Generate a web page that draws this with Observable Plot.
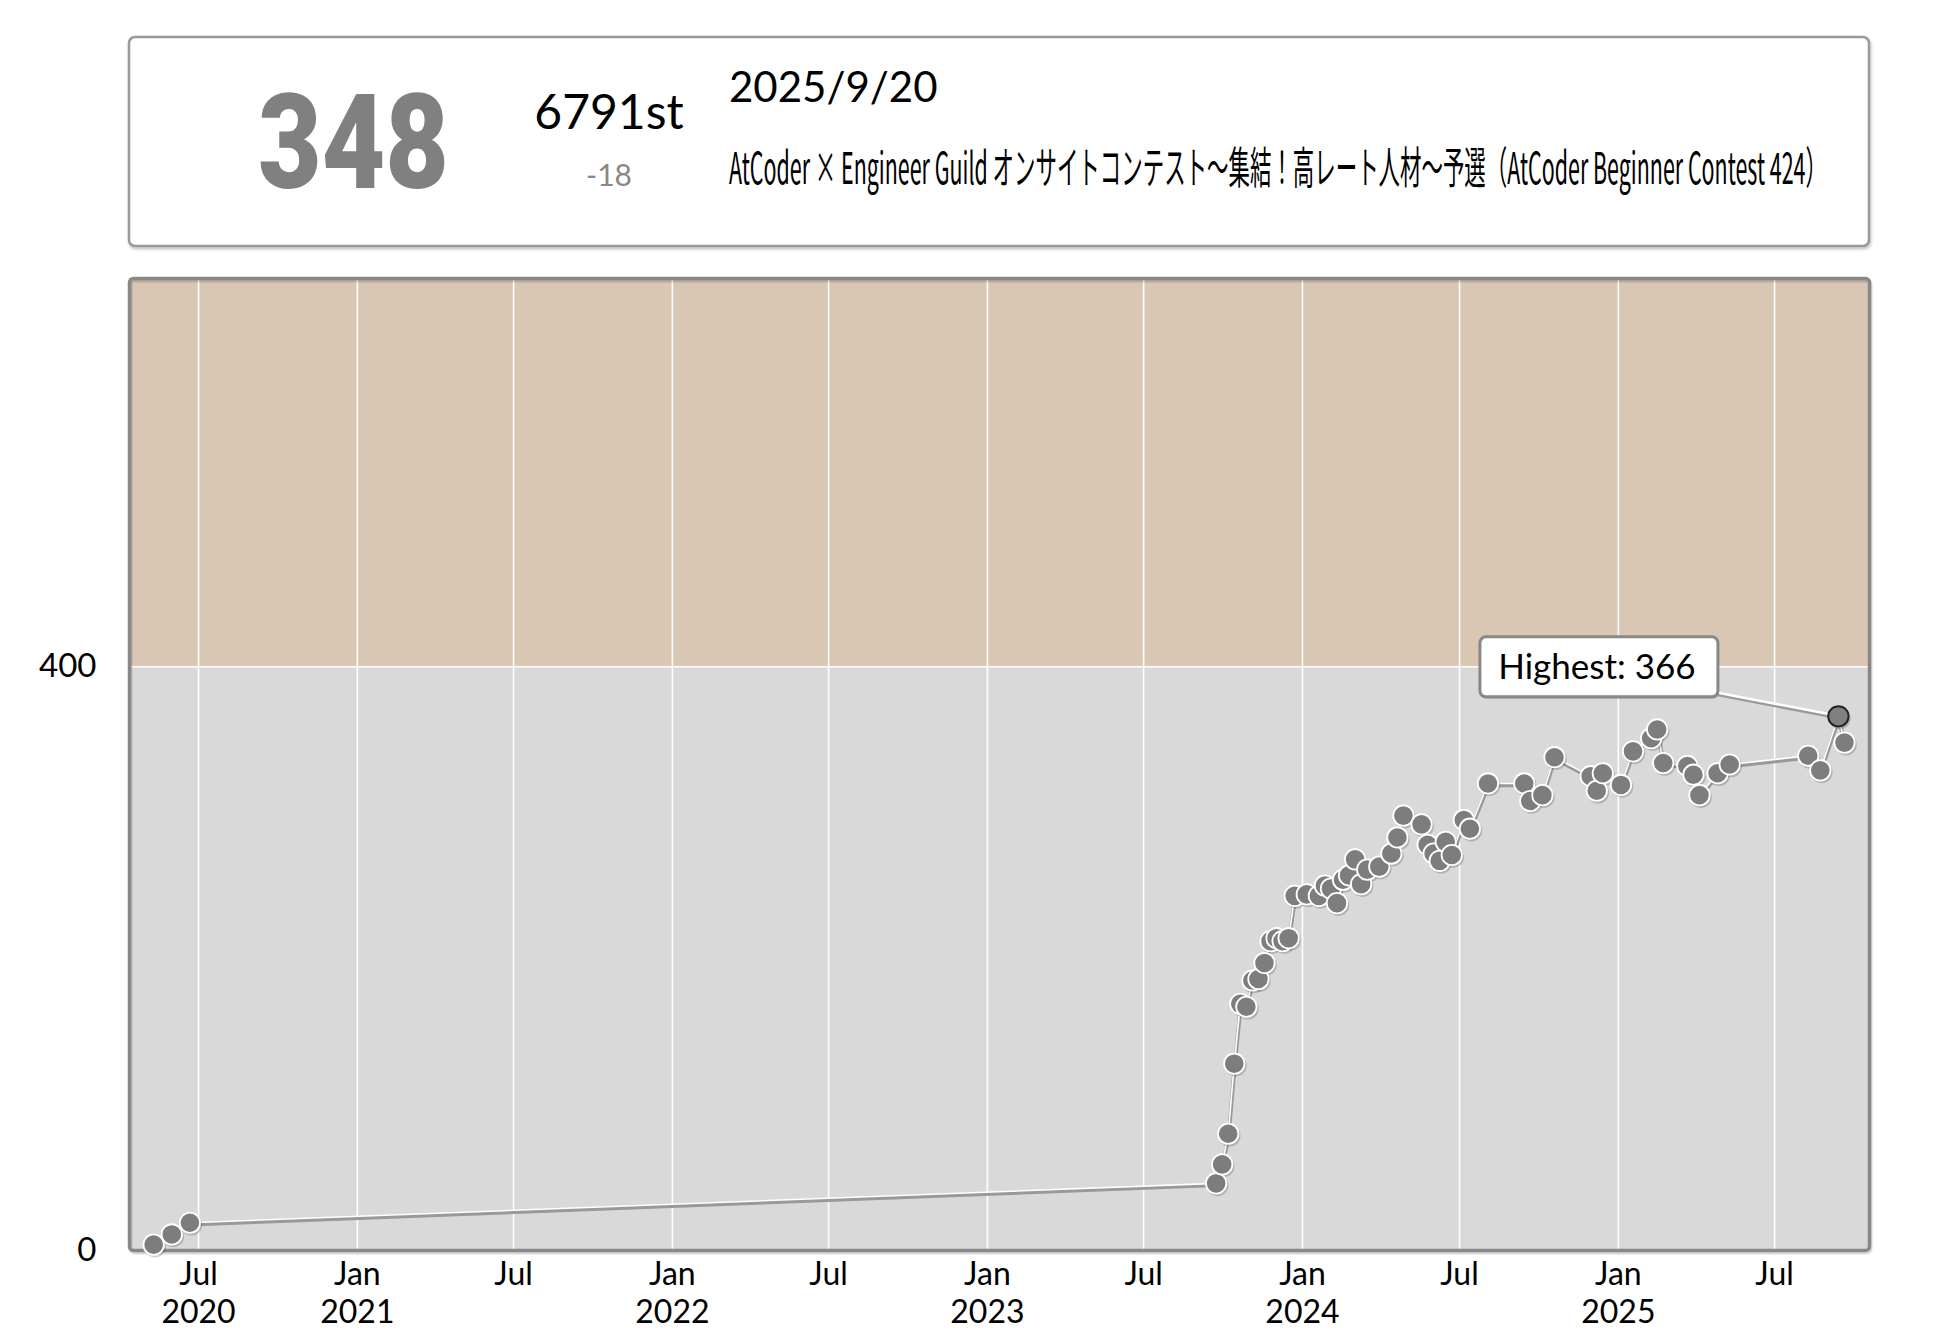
<!DOCTYPE html>
<html><head><meta charset="utf-8">
<script src="https://cdn.jsdelivr.net/npm/d3@7"></script>
<script src="https://cdn.jsdelivr.net/npm/@observablehq/plot@0.6"></script>
<style>
body{margin:0;background:#fff;font-family:Lato,sans-serif;}
#wrap{position:relative;width:1944px;height:1336px;overflow:hidden;}
#wrap svg{display:block;}
</style></head><body><div id="wrap"></div>
<script>
// ---- data ----
const contestDates = [
  "2020-05-10","2020-05-31","2020-06-21",
  "2023-09-23","2023-09-30","2023-10-07","2023-10-14","2023-10-21","2023-10-28",
  "2023-11-04","2023-11-11","2023-11-18","2023-11-25","2023-12-02","2023-12-09","2023-12-16","2023-12-23",
  "2024-01-06","2024-01-20","2024-01-27","2024-02-03","2024-02-10","2024-02-17","2024-02-24",
  "2024-03-02","2024-03-09","2024-03-16","2024-03-30","2024-04-13","2024-04-20","2024-04-27",
  "2024-05-18","2024-05-25","2024-06-01","2024-06-08","2024-06-15","2024-06-22",
  "2024-07-06","2024-07-13","2024-08-03","2024-09-14","2024-09-21","2024-10-05","2024-10-19",
  "2024-11-30","2024-12-07","2024-12-14","2025-01-04","2025-01-18","2025-02-08","2025-02-15","2025-02-22",
  "2025-03-22","2025-03-29","2025-04-05","2025-04-26","2025-05-10",
  "2025-08-09","2025-08-23","2025-09-13","2025-09-20"
];
const ratings = [
  4, 11, 19,
  46, 59, 80, 128, 169, 167,
  185, 186, 197, 212, 214, 212, 214, 243,
  244, 243, 250, 248, 238, 254, 257,
  268, 251, 261, 263, 272, 283, 298,
  292, 278, 272, 267, 280, 271,
  295, 289, 320, 320, 308, 312, 338,
  325, 315, 327, 319, 342, 351, 357, 334,
  332, 326, 312, 327, 333,
  339, 329, 366, 348
];
const xDomain = ["2020-04-12", "2025-10-19"];
const xTickDates = ["2020-07-01","2021-01-01","2021-07-01","2022-01-01","2022-07-01","2023-01-01",
                    "2023-07-01","2024-01-01","2024-07-01","2025-01-01","2025-07-01"];
const xTickLabels = ["Jul\n2020","Jan\n2021","Jul","Jan\n2022","Jul","Jan\n2023","Jul","Jan\n2024","Jul","Jan\n2025","Jul"];
const yTicks = [0, 400];
const yMax = 666;
const bandLower = [0, 400];
const bandUpper = [400, yMax];
const bandColors = ["#D9D9D9", "#D9C6B3"];

const currentRating = "348";
const currentRank = "6791st";
const ratingDiff = "-18";
const contestDate = "2025/9/20";
const contestName = "AtCoder × Engineer Guild オンサイトコンテスト～集結！高レート人材～予選（AtCoder Beginner Contest 424）";

// ---- build ----
const parse = d3.utcParse("%Y-%m-%d");
const data = contestDates.map((d, i) => ({date: parse(d), rating: ratings[i]}));
const dom = xDomain.map(parse);
const bands = bandLower.map((lo, i) => ({x1: dom[0], x2: dom[1], lo, hi: bandUpper[i], color: bandColors[i]}));
const ticks = xTickDates.map(parse);
const labelByTime = new Map(ticks.map((t, i) => [+t, xTickLabels[i]]));
const hiIdx = d3.maxIndex(data, d => d.rating);
const highest = data[hiIdx];

const wrap = document.getElementById("wrap");

// header
const hdr = d3.create("svg").attr("width", 1944).attr("height", 262).attr("viewBox", "0 0 1944 262");
wrap.appendChild(hdr.node());
const defs = hdr.append("defs");
const f = defs.append("filter").attr("id", "hs").attr("x", "-5%").attr("y", "-20%").attr("width", "110%").attr("height", "140%");
f.append("feDropShadow").attr("dx", 1).attr("dy", 2).attr("stdDeviation", 1.5).attr("flood-color", "#000").attr("flood-opacity", 0.25);
hdr.append("rect").attr("x", 129).attr("y", 37).attr("width", 1740).attr("height", 209).attr("rx", 6)
  .attr("fill", "#fff").attr("stroke", "#999").attr("stroke-width", 2.5).attr("filter", "url(#hs)");

// fitted text: scaled horizontally to a target width
function fittedText(x, y, width, attrs, str) {
  const t = hdr.append("text").attr("x", 0).attr("y", 0);
  for (const k in attrs) t.attr(k, attrs[k]);
  t.text(str);
  const w = t.node().getComputedTextLength() || width;
  t.attr("transform", `translate(${x},${y}) scale(${width / w},1)`);
  return t;
}
fittedText(258, 188, 191, {"font-family": "Roboto, 'DejaVu Sans', sans-serif", "font-weight": 900,
  "font-size": 132, "fill": "#808080"}, currentRating);
hdr.append("text").attr("x", 609).attr("y", 129).attr("text-anchor", "middle").attr("font-family", "Lato")
  .attr("font-size", 48).attr("fill", "#000").text(currentRank);
hdr.append("text").attr("x", 609).attr("y", 186).attr("text-anchor", "middle").attr("font-family", "Lato")
  .attr("font-size", 30).attr("fill", "#888").text(ratingDiff);
hdr.append("text").attr("x", 729).attr("y", 102).attr("font-family", "Lato")
  .attr("font-size", 42).attr("fill", "#000").text(contestDate);
fittedText(729, 184, 1098, {"font-family": "'Noto Sans CJK JP', sans-serif", "font-size": 44, "fill": "#000"}, contestName);

// highest label mark
function highestLabel(index, scales) {
  const px = scales.x(highest.date), py = scales.y(highest.rating);
  const g = d3.create("svg:g");
  g.append("line").attr("x1", px - 120).attr("y1", py - 21).attr("x2", px).attr("y2", py + 2)
    .attr("stroke", "#999").attr("stroke-width", 3);
  g.append("line").attr("x1", px - 120).attr("y1", py - 23).attr("x2", px).attr("y2", py)
    .attr("stroke", "#fff").attr("stroke-width", 2.5);
  g.append("rect").attr("x", px - 357).attr("y", py - 77).attr("width", 238).attr("height", 60).attr("rx", 6)
    .attr("fill", "#000").attr("fill-opacity", 0.2);
  g.append("rect").attr("x", px - 358).attr("y", py - 79).attr("width", 238).attr("height", 60).attr("rx", 6)
    .attr("fill", "#fff").attr("stroke", "#888").attr("stroke-width", 3);
  g.append("text").attr("x", px - 241).attr("y", py - 49).attr("text-anchor", "middle")
    .attr("dy", "0.35em").attr("font-family", "Lato").attr("font-size", 35).attr("fill", "#000")
    .text(`Highest: ${highest.rating}`);
  return g.node();
}

const chart = Plot.plot({
  width: 1944, height: 1074,
  marginLeft: 129, marginRight: 75, marginTop: 16, marginBottom: 86,
  style: {fontFamily: "Lato", fontSize: "32px", color: "#000", background: "transparent", overflow: "visible"},
  x: {type: "utc", domain: dom},
  y: {domain: [0, yMax]},
  color: {type: "identity"},
  marks: [
    Plot.rect(bands, {x1: "x1", x2: "x2", y1: "lo", y2: "hi", fill: "color"}),
    Plot.gridX(ticks, {stroke: "#fff", strokeOpacity: 1, strokeWidth: 1.6}),
    Plot.gridY([400], {stroke: "#fff", strokeOpacity: 1, strokeWidth: 1.6}),
    Plot.frame({stroke: "#000", strokeOpacity: 0.15, strokeWidth: 4, dx: 1, dy: 2, rx: 4}),
    Plot.frame({stroke: "#888", strokeWidth: 3.5, rx: 4}),
    Plot.axisX(ticks, {tickSize: 0, tickPadding: 8, fontSize: 32, lineHeight: 1.17,
      tickFormat: d => labelByTime.get(+d), label: null}),
    Plot.axisY(yTicks, {tickSize: 0, tickPadding: 33, fontSize: 33, label: null}),
    Plot.line(data, {x: "date", y: "rating", stroke: "#999", strokeWidth: 3.8, dx: 0.5, dy: 1.8}),
    Plot.line(data, {x: "date", y: "rating", stroke: "#fff", strokeWidth: 1.6}),
    Plot.dot(data, {x: "date", y: "rating", r: 10.8, fill: "#000", fillOpacity: 0.18, dx: 1.5, dy: 2}),
    Plot.dot(data, {x: "date", y: "rating", r: 10.2, fill: "#7d7d7d", stroke: "#fff", strokeWidth: 1.8}),
    highestLabel,
    Plot.dot([highest], {x: "date", y: "rating", r: 10.2, fill: "#808080", stroke: "#222", strokeWidth: 2})
  ]
});
wrap.appendChild(chart);
</script></body></html>
